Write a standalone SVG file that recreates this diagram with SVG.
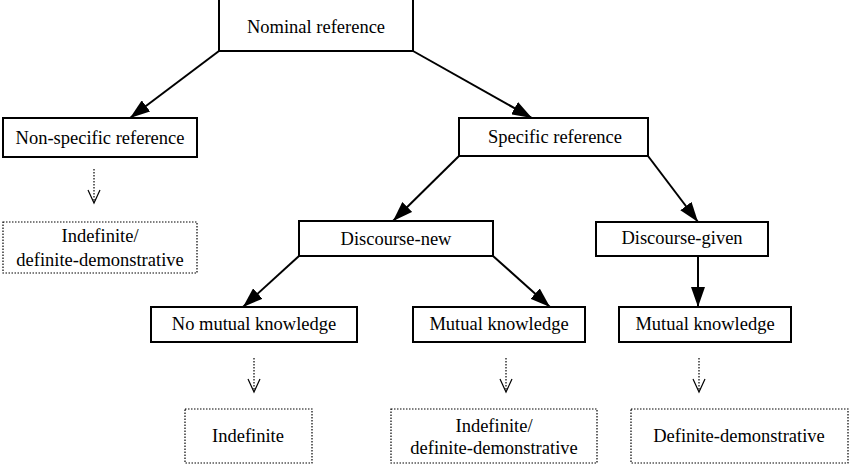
<svg xmlns="http://www.w3.org/2000/svg" width="850" height="464" viewBox="0 0 850 464">
<defs>
<marker id="tri" markerWidth="20" markerHeight="14" refX="20" refY="7" orient="auto" markerUnits="userSpaceOnUse">
<path d="M0,0 L20,7 L0,14 Z" fill="#000"/>
</marker>
<style>
.box{fill:#fff;stroke:#000;stroke-width:2}
.dbox{fill:#fff;stroke:#000;stroke-width:1.2;stroke-dasharray:1.5 1.5}
.t{font-size:18.5px;fill:#000;text-anchor:middle}
.c{stroke:#000;stroke-width:2;fill:none}
.d{stroke:#000;stroke-width:1.2;fill:none;stroke-dasharray:1.5 1.5}
.v{stroke:#000;stroke-width:1.2;fill:none}
</style>
</defs>
<rect width="850" height="464" fill="#fff"/>
<g id="connectors">
<line class="c" x1="219" y1="51" x2="130" y2="118" marker-end="url(#tri)"/>
<line class="c" x1="413" y1="51" x2="532" y2="118" marker-end="url(#tri)"/>
<line class="c" x1="459" y1="156" x2="393" y2="221" marker-end="url(#tri)"/>
<line class="c" x1="648" y1="156" x2="698" y2="222" marker-end="url(#tri)"/>
<line class="c" x1="299" y1="256" x2="243" y2="307" marker-end="url(#tri)"/>
<line class="c" x1="493" y1="256" x2="550" y2="307" marker-end="url(#tri)"/>
<line class="c" x1="698" y1="256" x2="698" y2="307" marker-end="url(#tri)"/>
<line class="d" x1="94" y1="169" x2="94" y2="202"/>
<path class="v" d="M88,190 L94,203 L100,190"/>
<line class="d" x1="254" y1="358" x2="254" y2="391"/>
<path class="v" d="M248,379 L254,392 L260,379"/>
<line class="d" x1="506" y1="358" x2="506" y2="391"/>
<path class="v" d="M500,379 L506,392 L512,379"/>
<line class="d" x1="699" y1="358" x2="699" y2="391"/>
<path class="v" d="M693,379 L699,392 L705,379"/>
</g>
<g font-family="Liberation Serif, Times New Roman, DejaVu Serif, serif">
<g id="nominal"><rect class="box" x="219" y="-1" width="194" height="52"/><text class="t" x="316" y="33">Nominal reference</text></g>
<g id="nonspecific"><rect class="box" x="3" y="118" width="194" height="39"/><text class="t" x="100" y="144">Non-specific reference</text></g>
<g id="specific"><rect class="box" x="459" y="118" width="189" height="38"/><text class="t" x="555" y="143">Specific reference</text></g>
<g id="indef1"><rect class="dbox" x="3" y="222" width="194" height="51"/><text class="t" x="100" y="242">Indefinite/</text><text class="t" x="100" y="266">definite-demonstrative</text></g>
<g id="discnew"><rect class="box" x="299" y="221" width="194" height="35"/><text class="t" x="396" y="245">Discourse-new</text></g>
<g id="discgiven"><rect class="box" x="596" y="222" width="172" height="34"/><text class="t" x="682" y="244">Discourse-given</text></g>
<g id="nomutual"><rect class="box" x="151" y="307" width="206" height="35"/><text class="t" x="254" y="330">No mutual knowledge</text></g>
<g id="mutual1"><rect class="box" x="413" y="307" width="172" height="35"/><text class="t" x="499" y="330">Mutual knowledge</text></g>
<g id="mutual2"><rect class="box" x="619" y="307" width="172" height="35"/><text class="t" x="705" y="330">Mutual knowledge</text></g>
<g id="indefinite"><rect class="dbox" x="185" y="409" width="127" height="54"/><text class="t" x="248" y="442">Indefinite</text></g>
<g id="indef2"><rect class="dbox" x="391" y="409" width="206" height="54"/><text class="t" x="494" y="432">Indefinite/</text><text class="t" x="494" y="454">definite-demonstrative</text></g>
<g id="defdem"><rect class="dbox" x="631" y="409" width="217" height="54"/><text class="t" x="739" y="442">Definite-demonstrative</text></g>
</g>
</svg>
